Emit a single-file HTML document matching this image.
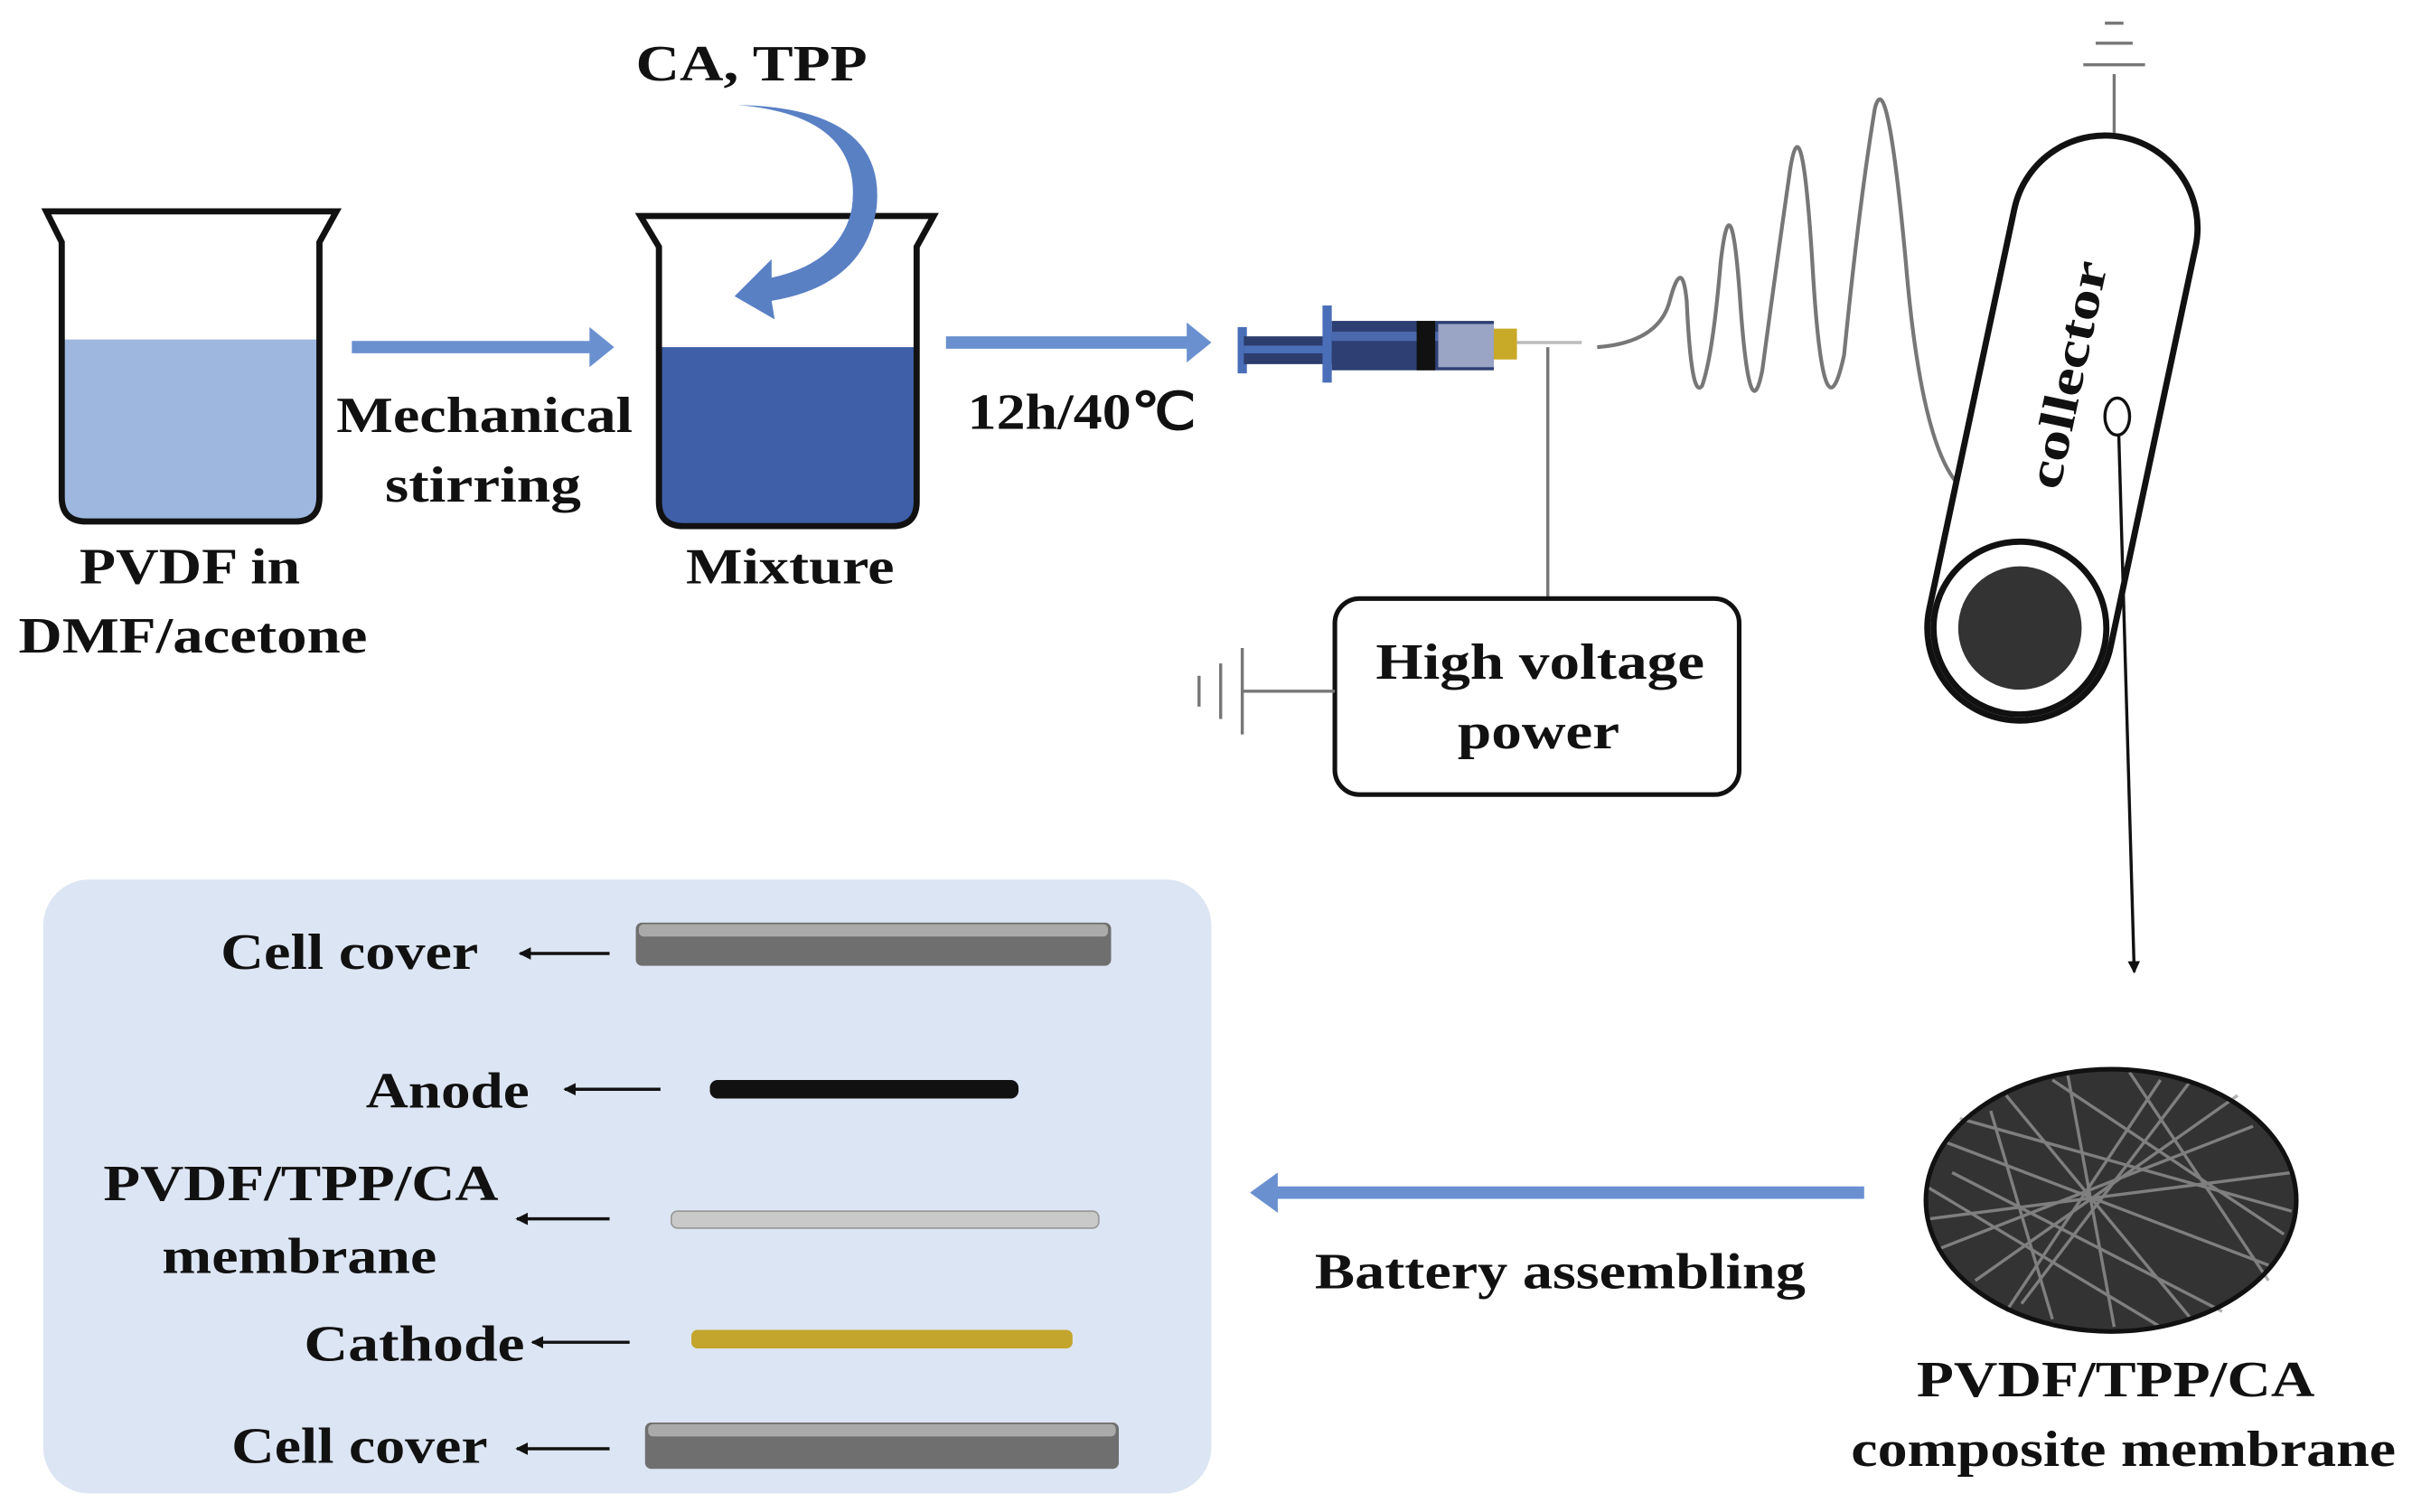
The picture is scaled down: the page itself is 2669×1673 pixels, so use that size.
<!DOCTYPE html>
<html><head><meta charset="utf-8"><style>html,body{margin:0;padding:0;background:#fff}svg{display:block}</style></head>
<body>
<svg width="2669" height="1673" viewBox="0 0 1563 980" preserveAspectRatio="none" xmlns="http://www.w3.org/2000/svg" font-family="Liberation Serif, serif" font-weight="bold" font-size="33" fill="#111">
<defs>
<marker id="ah" markerWidth="8" markerHeight="8" refX="7" refY="4" orient="auto" markerUnits="userSpaceOnUse"><path d="M0,0 L8,4 L0,8 z" fill="#111"/></marker>
</defs>
<!-- beaker 1 -->
<path d="M40,220 L207,220 L207,322 Q207,338 191,338 L56,338 Q40,338 40,322 Z" fill="#9db7df"/>
<path d="M30,137 L218,137 L207,157 L207,322 Q207,338 191,338 L56,338 Q40,338 40,322 L40,157 Z" fill="none" stroke="#111" stroke-width="4"/>
<!-- beaker 2 -->
<path d="M427,225 L594,225 L594,325 Q594,341 578,341 L443,341 Q427,341 427,325 Z" fill="#3f5fa8"/>
<path d="M415,140 L605,140 L594,160 L594,325 Q594,341 578,341 L443,341 Q427,341 427,325 L427,160 Z" fill="none" stroke="#111" stroke-width="4"/>
<!-- arrows -->
<path d="M228,221 L382,221 L382,212 L398,225 L382,238 L382,229 L228,229 Z" fill="#6a90d0"/>
<path d="M613,218 L769,218 L769,209 L785,222 L769,235 L769,226 L613,226 Z" fill="#6a90d0"/>
<!-- curved arrow -->
<path d="M478,68 Q560,75 552,135 Q545,170 500,180 L500,168 L476,192 L502,207 L500,195 Q560,185 568,135 Q575,70 478,68 Z" fill="#5a80c4"/>
<text x="487" y="52" text-anchor="middle" textLength="150" lengthAdjust="spacingAndGlyphs">CA, TPP</text>
<text x="314" y="280" text-anchor="middle" textLength="192" lengthAdjust="spacingAndGlyphs">Mechanical</text>
<text x="313" y="325" text-anchor="middle" textLength="127" lengthAdjust="spacingAndGlyphs">stirring</text>
<text x="123" y="378" text-anchor="middle" textLength="143" lengthAdjust="spacingAndGlyphs">PVDF in</text>
<text x="125" y="423" text-anchor="middle" textLength="226" lengthAdjust="spacingAndGlyphs">DMF/acetone</text>
<text x="512" y="378" text-anchor="middle" textLength="135" lengthAdjust="spacingAndGlyphs">Mixture</text>
<text x="701" y="278" text-anchor="middle" textLength="148" lengthAdjust="spacingAndGlyphs">12h/40℃</text>
<!-- syringe -->
<rect x="802" y="212" width="6" height="30" fill="#4a6fb8"/>
<rect x="806" y="218" width="110" height="18" fill="#2c3d6e"/>
<rect x="806" y="224" width="110" height="5" fill="#4a6fb8"/>
<rect x="857" y="198" width="6" height="50" fill="#4a6fb8"/>
<rect x="863" y="208" width="105" height="32" fill="#2d3f73"/>
<rect x="863" y="215" width="70" height="6" fill="#4b69ad"/>
<rect x="918" y="208" width="12" height="32" fill="#111"/>
<rect x="932" y="210" width="36" height="28" fill="#9aa4c4"/>
<rect x="968" y="213" width="15" height="20" fill="#c9a928"/>
<line x1="983" y1="222" x2="1025" y2="222" stroke="#bbb" stroke-width="2"/>
<path d="M1035,225 Q1075,222 1082,195 Q1090,165 1093,195 Q1096,260 1103,250 Q1110,230 1115,170 Q1122,110 1128,200 Q1134,280 1142,240 Q1150,180 1160,110 Q1168,60 1175,180 Q1182,290 1195,230 Q1205,130 1215,70 Q1223,40 1235,170 Q1245,290 1270,315" fill="none" stroke="#777" stroke-width="2.5"/>
<line x1="1003" y1="225" x2="1003" y2="388" stroke="#777" stroke-width="2"/>
<!-- HV box -->
<rect x="865" y="388" width="262" height="127" rx="16" fill="#fff" stroke="#111" stroke-width="3"/>
<text x="998" y="440" text-anchor="middle" textLength="213" lengthAdjust="spacingAndGlyphs">High voltage</text>
<text x="997" y="485" text-anchor="middle" textLength="105" lengthAdjust="spacingAndGlyphs">power</text>
<line x1="865" y1="448" x2="805" y2="448" stroke="#777" stroke-width="2"/>
<line x1="805" y1="420" x2="805" y2="476" stroke="#777" stroke-width="2"/>
<line x1="791" y1="430" x2="791" y2="466" stroke="#777" stroke-width="2"/>
<line x1="777" y1="438" x2="777" y2="458" stroke="#777" stroke-width="2"/>
<!-- top ground -->
<line x1="1370" y1="48" x2="1370" y2="100" stroke="#777" stroke-width="2"/>
<line x1="1350" y1="42" x2="1390" y2="42" stroke="#777" stroke-width="2"/>
<line x1="1358" y1="28" x2="1382" y2="28" stroke="#777" stroke-width="2"/>
<line x1="1364" y1="15" x2="1376" y2="15" stroke="#777" stroke-width="2"/>
<!-- collector -->
<g transform="translate(1337,275) rotate(12)">
<rect x="-60" y="-190" width="120" height="385" rx="60" fill="#fff" stroke="#111" stroke-width="4"/>
<circle cx="0" cy="135" r="56" fill="#fff" stroke="#111" stroke-width="4"/>
<circle cx="0" cy="135" r="40" fill="#333"/>
</g>
<text transform="translate(1350,245) rotate(-78)" text-anchor="middle" font-size="32" textLength="150" lengthAdjust="spacingAndGlyphs">collector</text>
<ellipse cx="1372" cy="270" rx="8" ry="12" fill="#fff" stroke="#111" stroke-width="2"/>
<line x1="1373" y1="282" x2="1383" y2="630" stroke="#111" stroke-width="2" marker-end="url(#ah)"/>
<!-- membrane disc -->
<ellipse cx="1368" cy="778" rx="120" ry="85" fill="#333"/>
<g stroke="#999" stroke-width="2" opacity="0.75">
<line x1="1260" y1="740" x2="1470" y2="820"/><line x1="1280" y1="830" x2="1450" y2="710"/>
<line x1="1300" y1="710" x2="1420" y2="855"/><line x1="1250" y1="790" x2="1485" y2="760"/>
<line x1="1340" y1="697" x2="1370" y2="860"/><line x1="1400" y1="700" x2="1300" y2="850"/>
<line x1="1265" y1="760" x2="1440" y2="850"/><line x1="1330" y1="700" x2="1480" y2="800"/>
<line x1="1255" y1="810" x2="1460" y2="730"/><line x1="1290" y1="720" x2="1330" y2="855"/>
<line x1="1380" y1="695" x2="1470" y2="830"/><line x1="1270" y1="725" x2="1485" y2="785"/>
<line x1="1310" y1="845" x2="1420" y2="700"/><line x1="1250" y1="770" x2="1400" y2="860"/>
</g>
<ellipse cx="1368" cy="778" rx="120" ry="85" fill="none" stroke="#111" stroke-width="3"/>
<text x="1371" y="905" text-anchor="middle" textLength="258" lengthAdjust="spacingAndGlyphs">PVDF/TPP/CA</text>
<text x="1376" y="950" text-anchor="middle" textLength="353" lengthAdjust="spacingAndGlyphs">composite membrane</text>
<!-- battery arrow -->
<path d="M1208,769 L828,769 L828,760 L810,773 L828,786 L828,777 L1208,777 Z" fill="#6a90d0"/>
<text x="1011" y="835" text-anchor="middle" textLength="318" lengthAdjust="spacingAndGlyphs">Battery assembling</text>
<!-- panel -->
<rect x="28" y="570" width="757" height="398" rx="30" fill="#dce5f3"/>
<rect x="412" y="598" width="308" height="28" rx="4" fill="#6f6f6f"/>
<rect x="414" y="599" width="304" height="8" rx="3" fill="#aaa"/>
<rect x="460" y="700" width="200" height="12" rx="5" fill="#111"/>
<rect x="435" y="785" width="277" height="11" rx="4" fill="#c9c9c9" stroke="#999" stroke-width="1"/>
<rect x="448" y="862" width="247" height="12" rx="4" fill="#c3a42c"/>
<rect x="418" y="922" width="307" height="30" rx="4" fill="#6f6f6f"/>
<rect x="420" y="923" width="303" height="8" rx="3" fill="#aaa"/>
<g stroke="#111" stroke-width="2">
<line x1="395" y1="618" x2="337" y2="618" marker-end="url(#ah)"/>
<line x1="428" y1="706" x2="366" y2="706" marker-end="url(#ah)"/>
<line x1="395" y1="790" x2="335" y2="790" marker-end="url(#ah)"/>
<line x1="408" y1="870" x2="345" y2="870" marker-end="url(#ah)"/>
<line x1="395" y1="939" x2="335" y2="939" marker-end="url(#ah)"/>
</g>
<text x="143" y="628" textLength="167" lengthAdjust="spacingAndGlyphs">Cell cover</text>
<text x="237" y="718" textLength="106" lengthAdjust="spacingAndGlyphs">Anode</text>
<text x="67" y="778" textLength="256" lengthAdjust="spacingAndGlyphs">PVDF/TPP/CA</text>
<text x="105" y="825" textLength="178" lengthAdjust="spacingAndGlyphs">membrane</text>
<text x="197" y="882" textLength="143" lengthAdjust="spacingAndGlyphs">Cathode</text>
<text x="150" y="948" textLength="166" lengthAdjust="spacingAndGlyphs">Cell cover</text>
</svg>
</body></html>
